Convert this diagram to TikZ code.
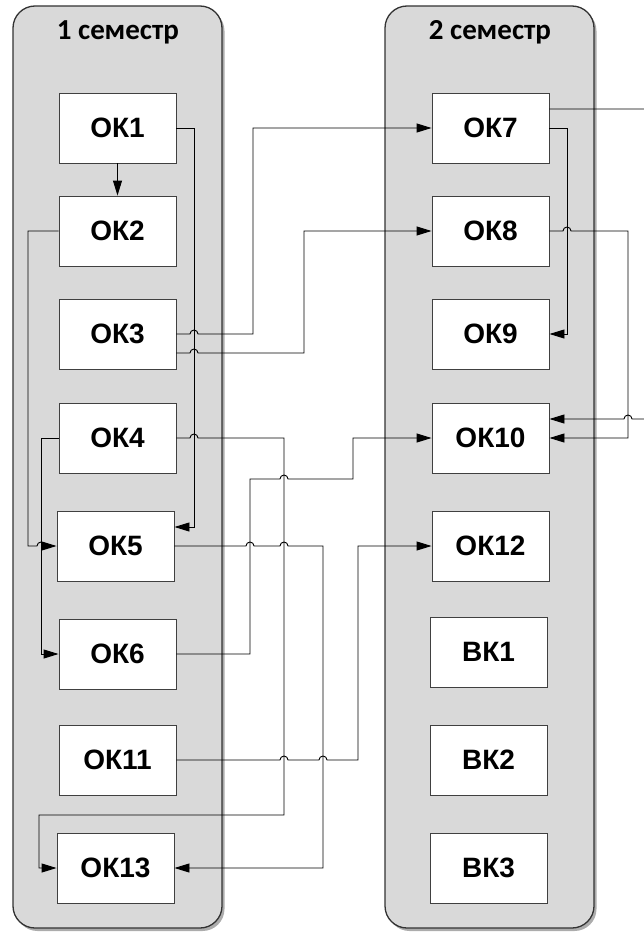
\documentclass[tikz,border=0pt]{standalone}
\usepackage{fontspec}
\setmainfont{Liberation Sans}
\newfontfamily\titlefont{Carlito}
\usetikzlibrary{arrows.meta}
\newcommand\hp[2]{-- (#1-4,#2) arc[start angle=180,end angle=360,radius=4]}
\newcommand\hpl[2]{-- (#1+4,#2) arc[start angle=0,end angle=-180,radius=4]}
\begin{document}
\begin{tikzpicture}[x=1pt,y=-1pt,
  semester/.style={draw=black!80, line width=1.3pt, fill=gray!30, rounded corners=22pt,
    minimum width=209pt, minimum height=922pt, inner sep=0pt},
  shadowbox/.style={fill=gray!65, rounded corners=22pt, minimum width=209pt, minimum height=922pt, inner sep=0pt},
  titletext/.style={font=\titlefont\bfseries\fontsize{29}{31}\selectfont},
  box/.style={draw=black!75, line width=0.9pt, fill=white, minimum width=117pt,
    minimum height=70pt, inner sep=0pt, font=\bfseries\fontsize{28}{30}\selectfont},
  conn/.style={line width=0.9pt, draw=black},
  arr/.style={conn, -{Triangle[length=15pt,width=9pt]}}
]
\path[use as bounding box, clip] (0,0) rectangle (644,934);
% containers
\node[shadowbox] (sh1) at (120,470) {};
\node[shadowbox] (sh2) at (492,470) {};
\node[semester] (sem1) at (117.5,467) {};
\node[semester] (sem2) at (489.5,467) {};
\node[titletext] (t1) at (118,32) {1 семестр};
\node[titletext] (t2) at (490,32) {2 семестр};
% semester 1
\node[box] (ok1) at (117.5,128) {ОК1};
\node[box] (ok2) at (117.5,231) {ОК2};
\node[box] (ok3) at (117.5,334) {ОК3};
\node[box] (ok4) at (117.5,438) {ОК4};
\node[box] (ok5) at (115.5,546) {ОК5};
\node[box] (ok6) at (117.5,654) {ОК6};
\node[box] (ok11) at (117.5,760) {ОК11};
\node[box] (ok13) at (115.5,868) {ОК13};
% semester 2
\node[box] (ok7) at (490.5,128) {ОК7};
\node[box] (ok8) at (490.5,231) {ОК8};
\node[box] (ok9) at (490.5,334) {ОК9};
\node[box] (ok10) at (490.5,438) {ОК10};
\node[box] (ok12) at (490.5,546) {ОК12};
\node[box] (bk1) at (488.5,652) {ВК1};
\node[box] (bk2) at (488.5,760) {ВК2};
\node[box] (bk3) at (488.5,868) {ВК3};
% connectors
\draw[arr] (ok1) -- (ok2);
\draw[arr] (ok1.east) -- (194,128) -- (194,527) -- ([yshift=19pt]ok5.east);
\draw[arr] (ok2.west) -- (28,231) -- (28,546) \hp{41}{546} -- (ok5.west);
\draw[arr] (ok4.west) -- (41,438) -- (41,654) -- (ok6.west);
\draw[arr] (ok3.east) \hp{194}{334} -- (253,334) -- (253,128) -- (ok7.west);
\draw[arr] ([yshift=-19pt]ok3.east) \hp{194}{353} -- (304,353) -- (304,231) -- (ok8.west);
\draw[arr] (ok4.east) \hp{194}{438} -- (284,438) -- (284,815) -- (39,815) -- (39,868) -- (ok13.west);
\draw[arr] (ok5.east) \hp{250}{546} \hp{284}{546} -- (323,546) -- (323,868) -- (ok13.east);
\draw[arr] (ok6.east) -- (250,654) -- (250,479) \hp{284}{479} -- (353,479) -- (353,438) -- (ok10.west);
\draw[arr] (ok11.east) \hp{284}{760} \hp{323}{760} -- (358,760) -- (358,546) -- (ok12.west);
\draw[arr] (ok7.east) -- (567,128) -- (567,334) -- (ok9.east);
\draw[arr] (ok8.east) \hp{567}{231} -- (628,231) -- (628,438) -- (ok10.east);
\draw[arr] ([yshift=19pt]ok7.east) -- (660,109) -- (660,419) \hpl{628}{419} -- ([yshift=19pt]ok10.east);
\end{tikzpicture}
\end{document}
